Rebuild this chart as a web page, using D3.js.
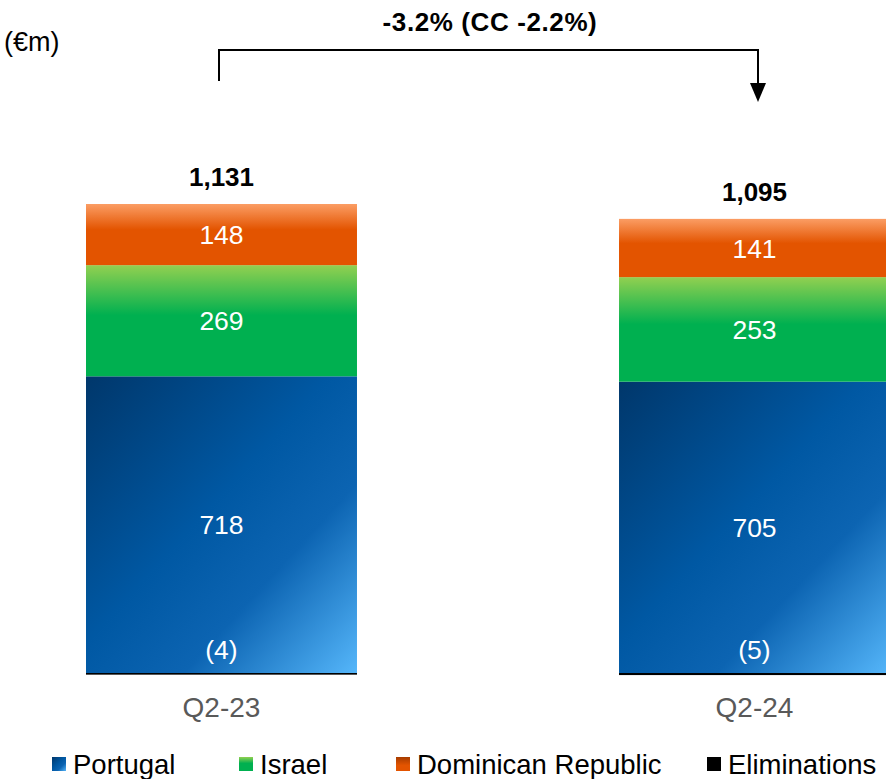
<!DOCTYPE html>
<html>
<head>
<meta charset="utf-8">
<script src="https://cdn.jsdelivr.net/npm/d3@7"></script>
<style>
  html, body { margin: 0; padding: 0; background: #fff; }
  svg { display: block; font-family: "Liberation Sans", Arial, sans-serif; }
</style>
</head>
<body>
<svg id="chart" width="886" height="779"></svg>
<script>
// Quarterly revenue by segment (€m)
const periods = ["Q2-23", "Q2-24"];
const portugal = [718, 705];
const israel = [269, 253];
const dominican = [148, 141];
const eliminations = [-4, -5];
const totals = [1131, 1095];
const totalLabels = ["1,131", "1,095"];
const changeLabel = "-3.2% (CC -2.2%)";
const unitLabel = "(€m)";
const legendNames = ["Portugal", "Israel", "Dominican Republic", "Eliminations"];

const svg = d3.select("#chart");
const defs = svg.append("defs");

// Fills
const gBlue = defs.append("linearGradient").attr("id", "gBlue")
  .attr("x1", 0).attr("y1", 0).attr("x2", 1).attr("y2", 1);
[[0, "#00376b"], [0.45, "#0058a3"], [0.68, "#0c64b2"], [1, "#55b6fa"]]
  .forEach(([o, c]) => gBlue.append("stop").attr("offset", o).attr("stop-color", c));

const gGreen = defs.append("linearGradient").attr("id", "gGreen")
  .attr("x1", 0).attr("y1", 0).attr("x2", 0).attr("y2", 1);
[[0, "#92d050"], [0.45, "#00b050"], [1, "#00b050"]]
  .forEach(([o, c]) => gGreen.append("stop").attr("offset", o).attr("stop-color", c));

const gOrange = defs.append("linearGradient").attr("id", "gOrange")
  .attr("x1", 0).attr("y1", 0).attr("x2", 0).attr("y2", 1);
[[0, "#fb9d64"], [0.42, "#e35400"], [1, "#e35400"]]
  .forEach(([o, c]) => gOrange.append("stop").attr("offset", o).attr("stop-color", c));

const gOrangeKey = defs.append("linearGradient").attr("id", "gOrangeKey")
  .attr("x1", 0).attr("y1", 0).attr("x2", 0).attr("y2", 1);
[[0, "#a63c00"], [0.6, "#e35400"], [1, "#e35400"]]
  .forEach(([o, c]) => gOrangeKey.append("stop").attr("offset", o).attr("stop-color", c));

// Scales
const x = d3.scaleBand().domain(periods).range([86, 890])
  .paddingInner(0.4916).paddingOuter(0);
const y = d3.scaleLinear().domain([0, 1135]).range([673, 204]);

const segments = [
  { key: "Portugal", values: portugal, fill: "url(#gBlue)" },
  { key: "Israel", values: israel, fill: "url(#gGreen)" },
  { key: "Dominican Republic", values: dominican, fill: "url(#gOrange)" }
];

periods.forEach((p, i) => {
  let base = 0;
  const g = svg.append("g");
  segments.forEach(s => {
    const v = s.values[i];
    g.append("rect")
      .attr("x", x(p)).attr("width", x.bandwidth())
      .attr("y", y(base + v)).attr("height", y(base) - y(base + v))
      .attr("fill", s.fill);
    g.append("text")
      .attr("x", x(p) + x.bandwidth() / 2)
      .attr("y", (y(base) + y(base + v)) / 2)
      .attr("dy", "0.36em")
      .attr("text-anchor", "middle")
      .attr("fill", "#fff").attr("font-size", 26.5)
      .text(v);
    base += v;
  });
  // Eliminations: thin negative segment below zero
  const e = eliminations[i];
  g.append("rect")
    .attr("x", x(p)).attr("width", x.bandwidth())
    .attr("y", y(0)).attr("height", y(e) - y(0))
    .attr("fill", "#000");
  g.append("text")
    .attr("x", x(p) + x.bandwidth() / 2)
    .attr("y", y(0) - 14)
    .attr("text-anchor", "middle")
    .attr("fill", "#fff").attr("font-size", 26.5)
    .text("(" + Math.abs(e) + ")");
  // Total above the stack
  g.append("text")
    .attr("x", x(p) + x.bandwidth() / 2)
    .attr("y", y(base) - 18)
    .attr("text-anchor", "middle")
    .attr("font-weight", "bold").attr("font-size", 26)
    .attr("fill", "#000")
    .text(totalLabels[i]);
});

// Category axis labels
svg.append("g").selectAll("text").data(periods).join("text")
  .attr("x", d => x(d) + x.bandwidth() / 2)
  .attr("y", 717)
  .attr("text-anchor", "middle")
  .attr("font-size", 28).attr("fill", "#595959")
  .text(d => d);

// Unit label
svg.append("text").attr("x", 4).attr("y", 51)
  .attr("font-size", 27).attr("fill", "#000").text(unitLabel);

// Change bracket with arrow
const xl = 219, xr = 758, yTop = 50;
svg.append("path")
  .attr("d", `M${xl},81 V${yTop} H${xr} V86`)
  .attr("fill", "none").attr("stroke", "#000").attr("stroke-width", 2);
svg.append("path")
  .attr("d", `M${xr - 8},83 L${xr + 8},83 L${xr},102 Z`)
  .attr("fill", "#000");
svg.append("text")
  .attr("x", 490).attr("y", 31)
  .attr("text-anchor", "middle")
  .attr("font-weight", "bold").attr("font-size", 26)
  .attr("letter-spacing", 0.6)
  .attr("fill", "#000")
  .text(changeLabel);

// Legend
const legendX = [52, 239, 396, 707];
const legendFill = ["url(#gBlue)", "url(#gGreen)", "url(#gOrangeKey)", "#000"];
const lg = svg.append("g");
legendNames.forEach((n, i) => {
  lg.append("rect").attr("x", legendX[i]).attr("y", 757)
    .attr("width", 14).attr("height", 14).attr("fill", legendFill[i]);
  lg.append("text").attr("x", legendX[i] + 21).attr("y", 774)
    .attr("font-size", 27.5).attr("fill", "#000").text(n);
});
</script>
</body>
</html>
